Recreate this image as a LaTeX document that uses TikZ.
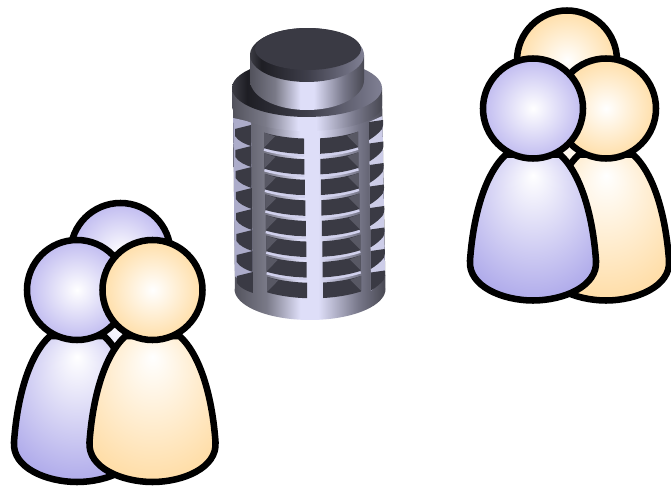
\documentclass[tikz,border=0pt]{standalone}
\definecolor{hB}{RGB}{192,187,240}
\definecolor{bB}{RGB}{150,144,228}
\definecolor{hO}{RGB}{255,222,168}
\definecolor{bO}{RGB}{255,210,138}
\definecolor{twDark}{RGB}{58,58,68}
\definecolor{twMid}{RGB}{88,88,100}
\definecolor{twRing}{RGB}{208,208,236}
\definecolor{twBack}{RGB}{205,205,232}
\definecolor{twBackL}{RGB}{172,172,202}
\definecolor{m0}{RGB}{82,82,92}
\definecolor{m1}{RGB}{122,122,136}
\definecolor{m2}{RGB}{222,222,248}
\definecolor{m3}{RGB}{120,120,138}
\definecolor{m4}{RGB}{72,72,82}
\definecolor{d0}{RGB}{60,60,68}
\definecolor{d1}{RGB}{30,30,36}
\definecolor{d2}{RGB}{62,62,74}
\definecolor{d3}{RGB}{128,128,148}
\pgfdeclareradialshading{headB}{\pgfpoint{0bp}{0bp}}{color(0bp)=(white);color(25bp)=(hB);color(50bp)=(hB)}
\pgfdeclareradialshading{headO}{\pgfpoint{0bp}{0bp}}{color(0bp)=(white);color(25bp)=(hO);color(50bp)=(hO)}
\pgfdeclareradialshading{bodyB}{\pgfpoint{0bp}{18bp}}{color(0bp)=(white);color(42bp)=(bB);color(50bp)=(bB)}
\pgfdeclareradialshading{bodyO}{\pgfpoint{0bp}{18bp}}{color(0bp)=(white);color(42bp)=(bO);color(50bp)=(bO)}
\pgfdeclarehorizontalshading{metal}{100bp}{color(0bp)=(m0);color(25bp)=(m0);color(36bp)=(m1);color(47bp)=(m2);color(53bp)=(m2);color(66bp)=(m3);color(75bp)=(m4);color(100bp)=(m4)}
\pgfdeclarehorizontalshading{darkring}{100bp}{color(0bp)=(d0);color(25bp)=(d0);color(30bp)=(d1);color(50bp)=(d2);color(75bp)=(d3);color(100bp)=(d3)}
\tikzset{
  outline/.style={draw=black,line width=4.9pt,line join=round},
  smoothplot/.style={samples=14,smooth}
}
% #1,#2 head centre; #3 letter of the colour
\newcommand{\personfig}[3]{%
  \begin{scope}[shift={(#1,#2)}]
    \shade[shading=body#3,outline] (-27,46) .. controls (-49,66) and (-60,110) .. (-63,152)
      .. controls (-65,178) and (-30,192) .. (0,192)
      .. controls (30,192) and (65,178) .. (63,152)
      .. controls (60,110) and (49,66) .. (27,46) -- cycle;
    \shade[shading=head#3,outline] (-50,0) .. controls (-50,-27.6) and (-27.6,-50) .. (0,-50)
      .. controls (27.6,-50) and (50,-27.6) .. (50,0)
      .. controls (50,27.6) and (27.6,50) .. (0,50)
      .. controls (-27.6,50) and (-50,27.6) .. (-50,0) -- cycle;
  \end{scope}}
\begin{document}
\begin{tikzpicture}[x=0.75pt,y=-0.75pt,
  declare function={ringy(\x)=30*sqrt(1-((\x-309.5)/76)^2);}]
\useasboundingbox (0,0) rectangle (671,488);

% left group
\personfig{120.5}{253}{B}
\personfig{77}{290}{B}
\personfig{152.5}{290}{O}
% right group
\personfig{567}{60.5}{O}
\personfig{606}{108.5}{O}
\personfig{533}{108.5}{B}

% tower body
\shade[shading=metal] (233,95) -- (235,289)
  -- plot[domain=180:0,samples=40] ({310+75.5*cos(\x)},{289+31*sin(\x)})
  -- (382,95) -- cycle;
% light background of the side openings
\fill[twBackL] (233.2,118) -- (251,122) -- (253,292) -- (234.8,276) -- cycle;
\fill[twBack] (369,122) -- (382.4,116) -- (385,276) -- (371,291) -- cycle;
% side wedges
\foreach \i in {0,...,7}{
  \pgfmathsetmacro\lx{0.28*\i}
  \pgfmathsetmacro\ly{21*\i}
  \pgfmathsetmacro\rx{0.28*\i}
  \pgfmathsetmacro\ry{21.5*\i}
  \fill[twDark,shift={(\lx,\ly)}] (235,129) -- (251,125) -- (251,146)
    .. controls (245,144) and (238,141) .. (235,136) -- cycle;
  \fill[twDark,shift={(\rx,\ry)}] (369,122) -- (383,120) .. controls (383.5,124) and (383,127) .. (382,129)
    .. controls (379,133) and (374,137) .. (369,140) -- cycle;
}
% front windows
\foreach \i in {0,...,7}{
  \pgfmathsetmacro\sx{0.45*\i}
  \pgfmathsetmacro\sy{108.6+20.6*\i}
  \begin{scope}[shift={(\sx,\sy)}]
    \fill[twDark] plot[domain=264:304,smoothplot] (\x,{ringy(\x)})
      -- plot[domain=304:264,smoothplot] (\x,{ringy(\x)+15.5}) -- cycle;
    \fill[twDark] plot[domain=320:358,smoothplot] (\x,{ringy(\x)})
      -- plot[domain=358:320,smoothplot] (\x,{ringy(\x)+15.5}) -- cycle;
    \fill[twMid] (264,{ringy(264)}) -- (264,{ringy(264)+15}) -- (275,{ringy(275)+1}) -- cycle;
    \fill[twMid] (358,{ringy(358)}) -- (358,{ringy(358)+15}) -- (347,{ringy(347)+1}) -- cycle;
    \ifnum\i<7
      \draw[twRing,line width=1.8pt] plot[domain=264:304,smoothplot] (\x,{ringy(\x)+17});
      \draw[twRing,line width=1.8pt] plot[domain=320:358,smoothplot] (\x,{ringy(\x)+17});
    \fi
  \end{scope}
}
% collar
\shade[shading=metal] (232,88) -- (232,106)
  -- plot[domain=180:0,samples=40] ({307+75*cos(\x)},{106+25*sin(\x)})
  -- (382,88) -- cycle;
\shade[shading=darkring] plot[domain=0:360,samples=60] ({307+75*cos(\x)},{88+29*sin(\x)}) -- cycle;
% cap
\shade[shading=metal] (250,55) -- (250,80)
  -- plot[domain=180:0,samples=40] ({307+57*cos(\x)},{80+30*sin(\x)})
  -- (364,55) -- cycle;
\shade[shading=darkring] plot[domain=0:360,samples=60] ({307+57*cos(\x)},{55+27*sin(\x)}) -- cycle;
\fill[twDark] plot[domain=0:360,samples=60] ({308+53*cos(\x)},{49+21*sin(\x)}) -- cycle;
\end{tikzpicture}
\end{document}
